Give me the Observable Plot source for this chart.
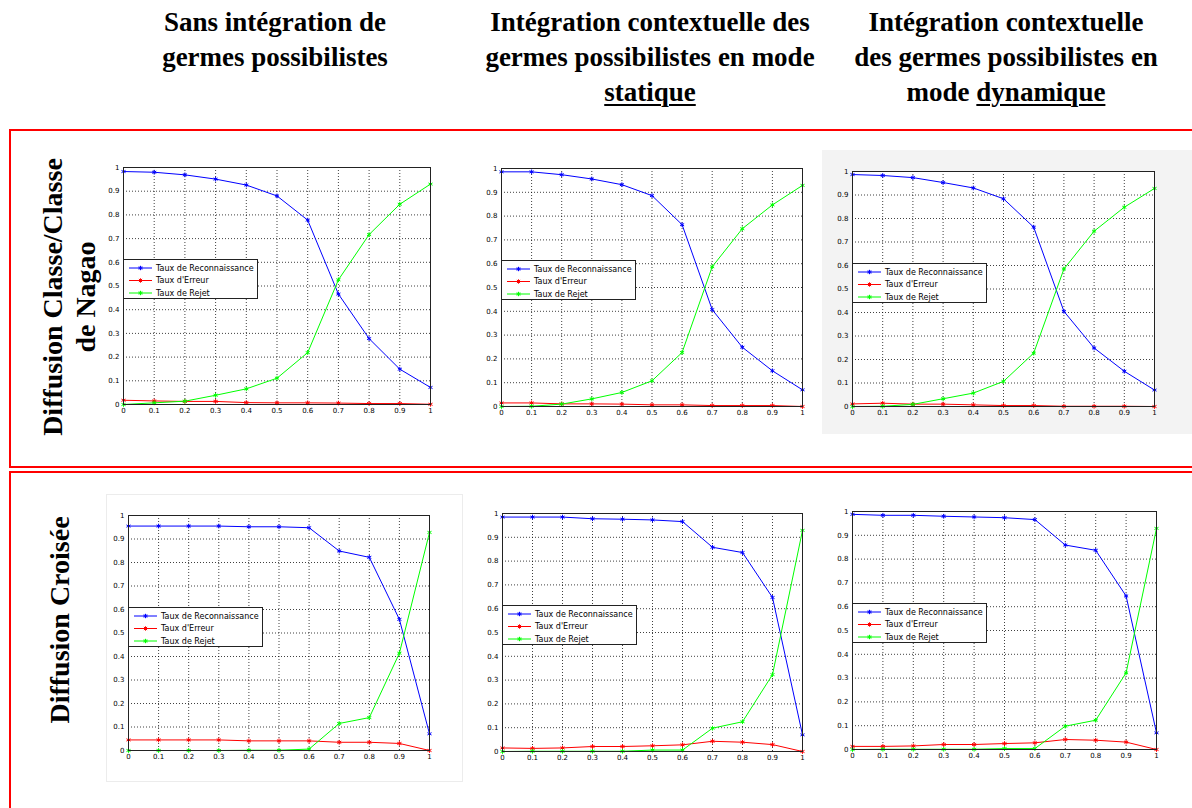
<!DOCTYPE html>
<html>
<head>
<meta charset="utf-8">
<script src="https://cdn.jsdelivr.net/npm/d3@7"></script>
<script src="https://cdn.jsdelivr.net/npm/@observablehq/plot@0.6"></script>
<style>
  html, body { margin: 0; padding: 0; }
  body { width: 1192px; height: 808px; overflow: hidden; background: #fff; position: relative; font-family: "Liberation Serif", "Times New Roman", serif; }
  .box { position: absolute; border: 2px solid #ff0000; box-sizing: border-box; }
  .hdr { position: absolute; font-weight: bold; font-size: 27px; line-height: 35px; text-align: center; white-space: nowrap; color: #000; transform: translateX(-50%); }
  .hdr u { text-decoration-thickness: 2px; text-underline-offset: 3px; }
  .rowlab { position: absolute; font-weight: bold; font-size: 28px; line-height: 33px; text-align: center; white-space: nowrap; color: #000; transform: translate(-50%, -50%) rotate(-90deg); }
  .panel { position: absolute; }
</style>
</head>
<body>
<script>
// ---------- data ----------
const thresholds = [0, 0.1, 0.2, 0.3, 0.4, 0.5, 0.6, 0.7, 0.8, 0.9, 1];
const tickLabels = ["0", "0.1", "0.2", "0.3", "0.4", "0.5", "0.6", "0.7", "0.8", "0.9", "1"];
const seriesNames = ["Taux de Reconnaissance", "Taux d'Erreur", "Taux de Rejet"];
const columnTitles = [
  ["Sans intégration de", "germes possibilistes"],
  ["Intégration contextuelle des", "germes possibilistes en mode", "statique"],
  ["Intégration contextuelle", "des germes possibilistes en", "mode dynamique"]
];
const underlinedWords = ["", "statique", "dynamique"];
const rowTitles = [
  ["Diffusion Classe/Classe", "de Nagao"],
  ["Diffusion Croisée"]
];

// Row 1 : Diffusion Classe/Classe de Nagao
const recoNagaoSans = [0.983, 0.980, 0.969, 0.951, 0.926, 0.880, 0.778, 0.466, 0.278, 0.149, 0.072];
const errNagaoSans  = [0.018, 0.015, 0.013, 0.013, 0.008, 0.007, 0.007, 0.006, 0.004, 0.004, 0.001];
const rejNagaoSans  = [0.000, 0.007, 0.014, 0.039, 0.066, 0.111, 0.219, 0.526, 0.717, 0.845, 0.930];

const recoNagaoStat = [0.986, 0.986, 0.974, 0.956, 0.932, 0.886, 0.764, 0.407, 0.249, 0.150, 0.070];
const errNagaoStat  = [0.015, 0.015, 0.011, 0.011, 0.010, 0.007, 0.007, 0.004, 0.004, 0.004, 0.000];
const rejNagaoStat  = [0.000, 0.001, 0.010, 0.032, 0.059, 0.108, 0.227, 0.587, 0.747, 0.847, 0.929];

const recoNagaoDyn = [0.987, 0.983, 0.974, 0.953, 0.930, 0.884, 0.763, 0.405, 0.249, 0.150, 0.070];
const errNagaoDyn  = [0.011, 0.014, 0.010, 0.010, 0.007, 0.004, 0.004, 0.001, 0.001, 0.001, 0.000];
const rejNagaoDyn  = [0.000, 0.001, 0.009, 0.033, 0.057, 0.107, 0.227, 0.585, 0.746, 0.848, 0.928];

// Row 2 : Diffusion Croisée
const recoCroiseeSans = [0.955, 0.955, 0.955, 0.955, 0.952, 0.952, 0.948, 0.849, 0.822, 0.558, 0.071];
const errCroiseeSans  = [0.045, 0.045, 0.045, 0.045, 0.041, 0.041, 0.041, 0.035, 0.035, 0.030, 0.000];
const rejCroiseeSans  = [0.000, 0.000, 0.000, 0.000, 0.001, 0.001, 0.006, 0.115, 0.140, 0.414, 0.928];

const recoCroiseeStat = [0.985, 0.985, 0.985, 0.978, 0.976, 0.973, 0.966, 0.858, 0.836, 0.647, 0.070];
const errCroiseeStat  = [0.015, 0.013, 0.015, 0.021, 0.021, 0.024, 0.028, 0.043, 0.039, 0.029, 0.000];
const rejCroiseeStat  = [0.000, 0.001, 0.001, 0.001, 0.001, 0.006, 0.006, 0.098, 0.125, 0.323, 0.929];

const recoCroiseeDyn = [0.988, 0.984, 0.984, 0.980, 0.977, 0.974, 0.966, 0.859, 0.837, 0.645, 0.070];
const errCroiseeDyn  = [0.013, 0.013, 0.015, 0.021, 0.021, 0.025, 0.028, 0.042, 0.039, 0.031, 0.000];
const rejCroiseeDyn  = [0.000, 0.001, 0.001, 0.001, 0.001, 0.004, 0.004, 0.098, 0.123, 0.322, 0.929];

const seriesColors = ["#0000ff", "#ff0000", "#00ff00"];

// ---------- layout ----------
const panels = [
  {series: [recoNagaoSans, errNagaoSans, rejNagaoSans],       left: 123, top: 167, w: 307, h: 237},
  {series: [recoNagaoStat, errNagaoStat, rejNagaoStat],       left: 501, top: 168, w: 301, h: 238},
  {series: [recoNagaoDyn, errNagaoDyn, rejNagaoDyn],          left: 852, top: 171, w: 302, h: 235},
  {series: [recoCroiseeSans, errCroiseeSans, rejCroiseeSans], left: 128, top: 515, w: 301, h: 235},
  {series: [recoCroiseeStat, errCroiseeStat, rejCroiseeStat], left: 502, top: 513, w: 300, h: 238},
  {series: [recoCroiseeDyn, errCroiseeDyn, rejCroiseeDyn],    left: 852, top: 511, w: 304, h: 238}
];

function addDiv(cls, style) {
  const d = document.createElement("div");
  if (cls) d.className = cls;
  Object.assign(d.style, style);
  document.body.appendChild(d);
  return d;
}
// scanned-image backgrounds
addDiv("", {position: "absolute", left: "822px", top: "150px", width: "370px", height: "284px", background: "#f3f3f3"});
addDiv("", {position: "absolute", left: "106px", top: "494px", width: "357px", height: "288px", border: "1px solid #ececec", boxSizing: "border-box"});

// red boxes
addDiv("box", {left: "9px", top: "129px", width: "1200px", height: "339px"});
addDiv("box", {left: "9px", top: "471px", width: "1200px", height: "400px"});

// column headers
const headerCenters = [275, 650, 1006];
columnTitles.forEach((lines, c) => {
  const d = addDiv("hdr", {left: headerCenters[c] + "px", top: "5px"});
  d.innerHTML = lines.map(l => {
    const w = underlinedWords[c];
    return w && l.includes(w) ? l.replace(w, "<u>" + w + "</u>") : l;
  }).join("<br>");
});

// row labels
const rowCenters = [[69, 297], [59, 620]];
rowTitles.forEach((lines, r) => {
  const d = addDiv("rowlab", {left: rowCenters[r][0] + "px", top: rowCenters[r][1] + "px"});
  d.innerHTML = lines.join("<br>");
});

// panels
const ML = 26, MR = 8, MT = 8, MB = 18;
const fmt = d => tickLabels[Math.round(d * 10)];
const inner = thresholds.slice(1, -1);

panels.forEach(p => {
  const rows = [];
  thresholds.forEach((t, i) => {
    seriesNames.forEach((s, k) => rows.push({t, v: p.series[k][i], s}));
  });
  const chart = Plot.plot({
    width: p.w + ML + MR,
    height: p.h + MT + MB,
    marginLeft: ML, marginRight: MR, marginTop: MT, marginBottom: MB,
    style: {fontFamily: "'DejaVu Sans', sans-serif", fontSize: "7px", background: "transparent", color: "#000", overflow: "visible"},
    x: {domain: [0, 1], label: null},
    y: {domain: [0, 1], label: null},
    color: {domain: seriesNames, range: seriesColors},
    marks: [
      Plot.frame({fill: "#fff"}),
      Plot.gridX(inner, {stroke: "#000", strokeOpacity: 0.75, strokeDasharray: "1,2"}),
      Plot.gridY(inner, {stroke: "#000", strokeOpacity: 0.75, strokeDasharray: "1,2"}),
      Plot.axisX(thresholds, {tickSize: 0, tickPadding: 4, tickFormat: fmt, fontSize: 7, label: null}),
      Plot.axisY(thresholds, {tickSize: 0, tickPadding: 4, tickFormat: fmt, fontSize: 7, label: null}),
      Plot.line(rows, {x: "t", y: "v", z: "s", stroke: "s", strokeWidth: 1}),
      Plot.dot(rows, {x: "t", y: "v", stroke: "s", symbol: "asterisk", r: 2.2, strokeWidth: 1}),
      Plot.frame({stroke: "#222", strokeWidth: 1})
    ]
  });
  const wrap = addDiv("panel", {left: (p.left - ML) + "px", top: (p.top - MT) + "px"});
  wrap.appendChild(chart);

  // MATLAB-style legend box
  const lw = 134, lh = 39;
  const lg = d3.create("svg").attr("width", lw + 2).attr("height", lh + 2)
    .style("position", "absolute").style("left", (p.left) + "px").style("top", (p.top + 92) + "px")
    .style("overflow", "visible");
  lg.append("rect").attr("x", 0.5).attr("y", 0.5).attr("width", lw).attr("height", lh)
    .attr("fill", "#fff").attr("stroke", "#222");
  seriesNames.forEach((name, k) => {
    const cy = 9 + k * 12.5;
    lg.append("line").attr("x1", 6).attr("x2", 29).attr("y1", cy).attr("y2", cy)
      .attr("stroke", seriesColors[k]).attr("stroke-width", 1);
    lg.append("path").attr("transform", `translate(17.5,${cy})`)
      .attr("d", "M-2.2,0H2.2M0,-2.2V2.2M-1.6,-1.6L1.6,1.6M-1.6,1.6L1.6,-1.6")
      .attr("stroke", seriesColors[k]).attr("stroke-width", 1).attr("fill", "none");
    lg.append("text").attr("x", 33).attr("y", cy).attr("dy", "0.35em")
      .attr("font-family", "'DejaVu Sans', sans-serif").attr("font-size", 8).attr("fill", "#000")
      .text(name);
  });
  document.body.appendChild(lg.node());
});
</script>
</body>
</html>
